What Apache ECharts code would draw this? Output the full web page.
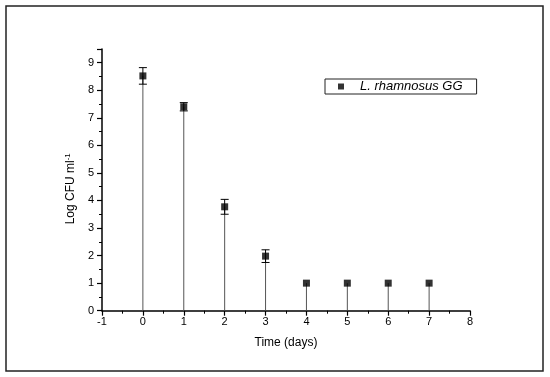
<!DOCTYPE html>
<html><head><meta charset="utf-8">
<script src="https://cdn.jsdelivr.net/npm/echarts@6/dist/echarts.min.js"></script>
<style>html,body{margin:0;padding:0;background:#fff}#c{width:550px;height:377px}</style>
</head><body><div id="c"></div>
<script>
var days = [0, 1, 2, 3, 4, 5, 6, 7];
var logCfu = [8.52, 7.40, 3.77, 1.98, 1.0, 1.0, 1.0, 1.0];
var errors = [0.30, 0.15, 0.27, 0.23, 0, 0, 0, 0];
var xTicks = [-1, 0, 1, 2, 3, 4, 5, 6, 7, 8];
var yTicks = [0, 1, 2, 3, 4, 5, 6, 7, 8, 9];
var seriesName = 'L. rhamnosus GG';

var chart = echarts.init(document.getElementById('c'));
var F = 'Liberation Sans, Arial, sans-serif';
var pts = days.map(function (d, i) { return [d, logCfu[i], errors[i]]; });

chart.setOption({
  animation: false,
  backgroundColor: '#fff',
  textStyle: { fontFamily: F },
  graphic: [{ type: 'rect', shape: { x: 6, y: 6, width: 537, height: 365 }, style: { fill: null, stroke: '#222', lineWidth: 1.5 }, silent: true }],
  grid: { left: 102, right: 80, top: 48.9, bottom: 66.3 },
  legend: {
    left: 325, top: 79, orient: 'horizontal',
    data: [{ name: seriesName, icon: 'rect' }],
    itemWidth: 6, itemHeight: 6,
    padding: [1, 14, 1, 13],
    borderColor: '#222', borderWidth: 1, borderRadius: 0,
    textStyle: { fontFamily: F, fontSize: 13, fontStyle: 'italic', color: '#000', padding: [0, 0, 0, 11] }
  },
  xAxis: {
    type: 'value', min: -1, max: 8, interval: 1,
    axisLine: { onZero: false, lineStyle: { color: '#000', width: 1.5 } },
    axisTick: { length: 5, lineStyle: { color: '#000', width: 1.2 } },
    minorTick: { show: true, splitNumber: 2, length: 3, lineStyle: { color: '#000' } },
    splitLine: { show: false },
    axisLabel: { color: '#000', fontSize: 11, margin: 6, fontFamily: F,
      formatter: function (v) { return xTicks.indexOf(v) >= 0 ? String(v) : ''; } },
    name: 'Time (days)', nameLocation: 'middle', nameGap: 26,
    nameTextStyle: { color: '#000', fontSize: 12, fontFamily: F }
  },
  yAxis: {
    type: 'value', min: 0, max: 9.5, interval: 1,
    axisLine: { show: true, onZero: false, lineStyle: { color: '#000', width: 1.5 } },
    axisTick: { show: true, length: 5, lineStyle: { color: '#000', width: 1.2 } },
    minorTick: { show: true, splitNumber: 2, length: 3, lineStyle: { color: '#000' } },
    splitLine: { show: false },
    axisLabel: { color: '#000', fontSize: 11, margin: 8, fontFamily: F,
      formatter: function (v) { return yTicks.indexOf(v) >= 0 ? String(v) : ''; } },
    name: '{n|Log CFU ml}{s|-1}', nameLocation: 'middle', nameGap: 20, nameRotate: 90,
    nameTextStyle: { color: '#000', fontSize: 12, fontFamily: F, padding: [0, 18, 0, 0],
      rich: { n: { fontSize: 12, fontFamily: F, color: '#000' },
              s: { fontSize: 8, fontFamily: F, color: '#000', verticalAlign: 'top', padding: [0, 0, 7, 0] } } }
  },
  series: [
    {
      name: 'drop', type: 'custom', silent: true,
      data: pts,
      renderItem: function (params, api) {
        var x = api.value(0), y = api.value(1), e = api.value(2);
        var p0 = api.coord([x, 0]), p = api.coord([x, y]);
        var children = [{ type: 'line', shape: { x1: p0[0], y1: p0[1], x2: p[0], y2: p[1] }, style: { stroke: '#555', lineWidth: 1 } }];
        if (e > 0) {
          var pt = api.coord([x, y + e]), pb = api.coord([x, y - e]);
          children.push({ type: 'line', shape: { x1: pt[0], y1: pt[1], x2: pb[0], y2: pb[1] }, style: { stroke: '#000', lineWidth: 1 } });
          children.push({ type: 'line', shape: { x1: pt[0] - 4, y1: pt[1], x2: pt[0] + 4, y2: pt[1] }, style: { stroke: '#000', lineWidth: 1 } });
          children.push({ type: 'line', shape: { x1: pb[0] - 4, y1: pb[1], x2: pb[0] + 4, y2: pb[1] }, style: { stroke: '#000', lineWidth: 1 } });
        }
        return { type: 'group', children: children };
      },
      z: 2
    },
    {
      name: seriesName, type: 'scatter', symbol: 'rect', symbolSize: 7,
      itemStyle: { color: '#000' },
      data: pts.map(function (p) { return [p[0], p[1]]; }),
      z: 3
    }
  ]
});
</script></body></html>
